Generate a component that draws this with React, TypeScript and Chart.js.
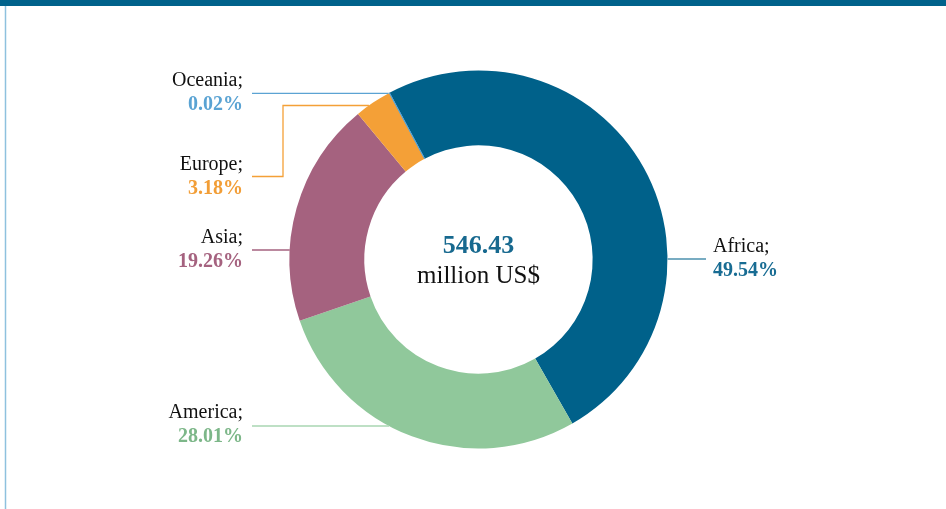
import React, { useEffect, useRef } from "react";
import { Chart, registerables } from "chart.js";

Chart.register(...registerables);

const regions = ["Africa", "America", "Asia", "Europe", "Oceania"];
const shares = [49.54, 28.01, 19.26, 3.18, 0.02];
const shareLabels = ["49.54%", "28.01%", "19.26%", "3.18%", "0.02%"];
const totalValue = "546.43";
const totalUnit = "million US$";

const fills = ["#00618A", "#90C89B", "#A5627F", "#F4A037", "#5BA3D3"];
const pctColors = ["#186C93", "#7DB789", "#A5627F", "#F29E37", "#5AA3D3"];
const leaderColors = ["#4B91AE", "#A9D6B2", "#A5627F", "#F4A037", "#5BA3D3"];

// label layout: side, text anchor x, first baseline, leader y, optional elbow
const labelLayout = [
  { side: "right", x: 713, base: 252, ly: 259, start: 706 },
  { side: "left", x: 243, base: 418, ly: 426, start: 252 },
  { side: "left", x: 243, base: 243, ly: 250, start: 252 },
  { side: "left", x: 243, base: 170, ly: 176.5, start: 252, elbowX: 283, ry: 105.5 },
  { side: "left", x: 243, base: 86, ly: 93.3, start: 252 },
];

const FONT = "'Liberation Serif', 'Times New Roman', serif";

const decorPlugin = {
  id: "decor",
  beforeDraw(chart: any) {
    const ctx = chart.ctx;
    ctx.save();
    ctx.fillStyle = "#ffffff";
    ctx.fillRect(0, 0, chart.width, chart.height);
    ctx.fillStyle = "#00628B";
    ctx.fillRect(0, 0, chart.width, 6);
    ctx.strokeStyle = "#8EC1DE";
    ctx.lineWidth = 1.5;
    ctx.beginPath();
    ctx.moveTo(5.5, 6);
    ctx.lineTo(5.5, chart.height);
    ctx.stroke();
    ctx.restore();
  },
  afterDraw(chart: any) {
    const ctx = chart.ctx;
    const arc = chart.getDatasetMeta(0).data[0];
    if (!arc) return;
    const cx = arc.x;
    const cy = arc.y;
    const r = arc.outerRadius;
    ctx.save();
    // center text
    ctx.textAlign = "center";
    ctx.textBaseline = "alphabetic";
    ctx.fillStyle = "#17698F";
    ctx.font = `bold 26px ${FONT}`;
    ctx.fillText(totalValue, cx, 253);
    ctx.fillStyle = "#111111";
    ctx.font = `25px ${FONT}`;
    ctx.fillText(totalUnit, cx, 283);

    regions.forEach((name, i) => {
      const L: any = labelLayout[i];
      const ringY = L.ry !== undefined ? L.ry : L.ly;
      const dx = Math.sqrt(Math.max(r * r - (ringY - cy) * (ringY - cy), 0));
      const ringX = L.side === "right" ? cx + dx : cx - dx;
      ctx.strokeStyle = leaderColors[i];
      ctx.lineWidth = 1.3;
      ctx.beginPath();
      if (L.elbowX !== undefined) {
        ctx.moveTo(L.start, L.ly);
        ctx.lineTo(L.elbowX, L.ly);
        ctx.lineTo(L.elbowX, ringY);
        ctx.lineTo(ringX, ringY);
      } else {
        ctx.moveTo(L.start, L.ly);
        ctx.lineTo(ringX, L.ly);
      }
      ctx.stroke();

      ctx.textAlign = L.side === "right" ? "left" : "right";
      ctx.fillStyle = "#111111";
      ctx.font = `20px ${FONT}`;
      ctx.fillText(name + ";", L.x, L.base);
      ctx.fillStyle = pctColors[i];
      ctx.font = `bold 20px ${FONT}`;
      ctx.fillText(shareLabels[i], L.x, L.base + 24);
    });
    ctx.restore();
  },
};

export default function App() {
  const ref = useRef<HTMLCanvasElement | null>(null);
  useEffect(() => {
    if (!ref.current) return;
    const chart = new Chart(ref.current, {
      type: "doughnut",
      data: {
        labels: regions,
        datasets: [
          {
            data: shares,
            backgroundColor: fills,
            borderColor: fills,
            borderWidth: [0, 0, 0, 0, 1],
          },
        ],
      },
      options: {
        animation: false,
        responsive: false,
        maintainAspectRatio: false,
        rotation: -28.1,
        cutout: "60.4%",
        layout: { padding: { top: 70, bottom: 60, left: 200, right: 189 } },
        plugins: {
          legend: { display: false },
          tooltip: { enabled: false },
        },
      },
      plugins: [decorPlugin],
    });
    return () => chart.destroy();
  }, []);
  return (
    <div style={{ position: "fixed", left: 0, top: 0, width: 946, height: 509 }}>
      <canvas ref={ref} width={946} height={509} style={{ width: 946, height: 509, display: "block" }} />
    </div>
  );
}
